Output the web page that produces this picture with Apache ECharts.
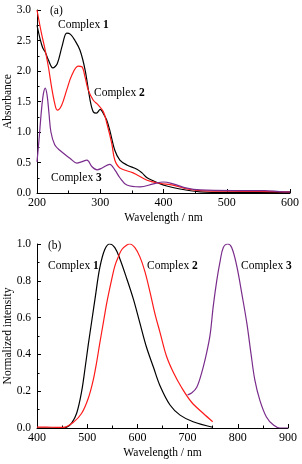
<!DOCTYPE html>
<html><head><meta charset="utf-8">
<script src="https://cdn.jsdelivr.net/npm/echarts@6/dist/echarts.min.js"></script>
<style>html,body{margin:0;padding:0;background:#fff}#c{width:302px;height:464px}</style>
</head><body><div id="c"></div>
<script>
// (a) absorption
const absWl1 = [200,205,209,213,218,225,232,240,247,253,260,268,276,284,289,294,300,305,310,315,323,331,342,358,366,374,384,395,405,426,458,500,550,600];
const absC1  = [2.75,2.52,2.38,2.31,2.18,2.05,2.12,2.42,2.62,2.6,2.5,2.34,2.02,1.52,1.33,1.31,1.37,1.3,1.2,1.03,0.70,0.54,0.46,0.39,0.33,0.25,0.20,0.15,0.115,0.066,0.02,0.01,0.01,0.01];
const absWl2 = [200,207,213,218,223,228,232,239,247,255,265,271,276,281,289,297,305,310,318,323,331,352,374,394,415,437,458,500,550,600];
const absC2  = [3.0,2.62,2.34,2.07,1.74,1.47,1.36,1.44,1.69,1.93,2.08,2.07,1.9,1.69,1.52,1.44,1.33,1.16,0.82,0.54,0.41,0.33,0.21,0.16,0.13,0.066,0.04,0.03,0.025,0.02];
const absWl3 = [200,203,207,210,213,216,219,222,228,236,252,263,270,279,287,295,303,315,323,331,342,363,384,400,415,437,458,510,560,590,600];
const absC3  = [0.51,0.85,1.35,1.62,1.72,1.6,1.3,1.0,0.79,0.70,0.57,0.49,0.51,0.54,0.43,0.38,0.41,0.47,0.38,0.25,0.13,0.10,0.15,0.18,0.15,0.08,0.05,0.04,0.04,0.02,0.02];
// (b) emission
const emWl1 = [400,450,459,469,479,489,496,502,509,516,525,535,545,555,565,579,592,605,618,632,645,665,685,711,750];
const emC1  = [0,0,0.004,0.027,0.08,0.20,0.33,0.45,0.58,0.71,0.87,0.97,1.0,0.98,0.92,0.81,0.70,0.57,0.44,0.33,0.23,0.125,0.07,0.034,0.004];
const emWl2 = [400,430,452,472,489,502,512,519,525,532,539,549,555,562,569,579,585,595,605,615,625,635,645,658,672,688,708,731,750];
const emC2  = [0.005,0.004,0.003,0.03,0.08,0.16,0.26,0.36,0.46,0.57,0.68,0.81,0.88,0.93,0.97,0.995,1.0,0.98,0.93,0.85,0.74,0.62,0.52,0.39,0.30,0.22,0.14,0.08,0.034];
const emWl3 = [700,708,718,728,738,745,751,758,765,771,780,788,798,808,818,826,834,844,857,871,884,900];
const emC3  = [0.18,0.19,0.22,0.30,0.41,0.51,0.66,0.80,0.91,0.98,1.0,0.98,0.88,0.73,0.57,0.41,0.26,0.15,0.06,0.016,0.0,0.0];

const FONT = '"Liberation Serif", "DejaVu Serif", serif';
const BLACK = '#000000', RED = '#ff1a1a', PURPLE = '#7a2c8c';
const zip = (a,b) => a.map((v,i)=>[v,b[i]]);

const axisCommon = {
  axisLine:{show:true,lineStyle:{color:'#000',width:1}},
  axisTick:{show:true,inside:true,length:4,lineStyle:{color:'#000'}},
  minorTick:{show:true,splitNumber:2,length:2.5,lineStyle:{color:'#000'}},
  splitLine:{show:false},
  nameMoveOverlap:false,
  nameTextStyle:{color:'#000',fontFamily:FONT,fontSize:11.5},
};
function xAx(idx,min,max){return Object.assign({},axisCommon,{type:'value',gridIndex:idx,min:min,max:max,interval:100,
  axisLabel:{color:'#000',fontFamily:FONT,fontSize:12,margin:4},
  name:'Wavelength / nm',nameLocation:'middle',nameGap:19});}
function yAx(idx,min,max,iv,name){return Object.assign({},axisCommon,{type:'value',gridIndex:idx,min:min,max:max,interval:iv,
  name:name,nameLocation:'middle',nameGap:23,
  axisLabel:{color:'#000',fontFamily:FONT,fontSize:11.5,margin:6,formatter:v=>v.toFixed(1)}});}
function line(data,color,xi,yi){return {type:'line',xAxisIndex:xi,yAxisIndex:yi,data:data,showSymbol:false,smooth:0.35,
  lineStyle:{color:color,width:1.2},itemStyle:{color:color},silent:true,z:3};}
function label(x,y,num){return {type:'text',left:x,top:y,style:{text:'{n|Complex }{b|'+num+'}',
  rich:{n:{fontFamily:FONT,fontSize:11.5,fill:'#000'},b:{fontFamily:FONT,fontSize:11.5,fontWeight:'bold',fill:'#000'}}}};}

const chart = echarts.init(document.getElementById('c'),null,{renderer:'canvas'});
chart.setOption({
  animation:false,
  grid:[{left:37,top:10,width:253,height:183,containLabel:false,outerBoundsMode:'none'},
        {left:37,top:244,width:251,height:184,containLabel:false,outerBoundsMode:'none'}],
  xAxis:[xAx(0,200,600),xAx(1,400,900)],
  yAxis:[yAx(0,0,3,0.5,'Absorbance'),yAx(1,0,1,0.2,'Normalized intensity')],
  series:[
    line(zip(absWl1,absC1),BLACK,0,0),
    line(zip(absWl2,absC2),RED,0,0),
    line(zip(absWl3,absC3),PURPLE,0,0),
    line(zip(emWl1,emC1),BLACK,1,1),
    line(zip(emWl2,emC2),RED,1,1),
    line(zip(emWl3,emC3),PURPLE,1,1)
  ],
  graphic:[
    {type:'text',left:50,top:5,style:{text:'(a)',font:'11.5px '+FONT,fill:'#000'}},
    label(58,19,'1'),label(94,87,'2'),label(51,172,'3'),
    {type:'text',left:48,top:240,style:{text:'(b)',font:'11.5px '+FONT,fill:'#000'}},
    label(48,260,'1'),label(147,260,'2'),label(241,260,'3')
  ]
});
</script></body></html>
